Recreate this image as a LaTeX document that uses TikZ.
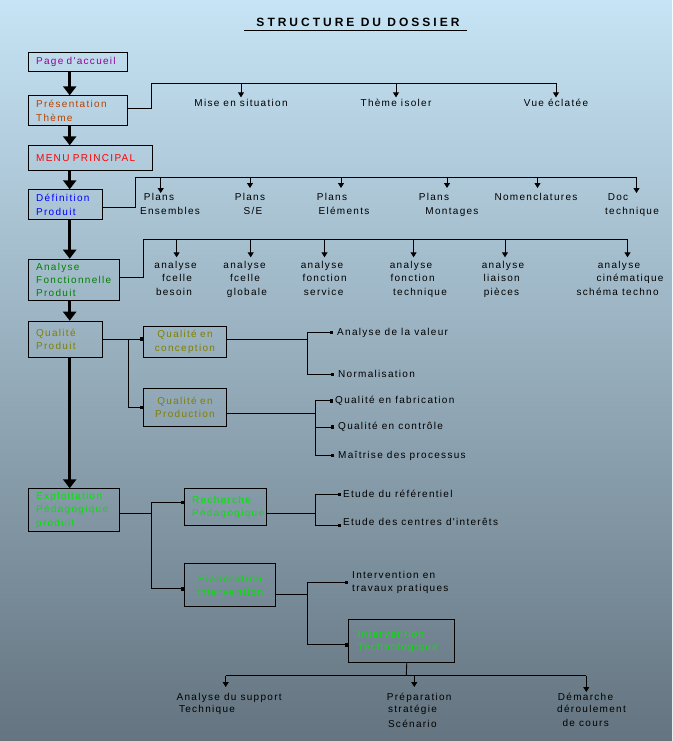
\documentclass[tikz,border=0pt]{standalone}
\usepackage{fontspec}
\setmainfont{Liberation Sans}
\newfontfamily\pixfont[LetterSpace=13]{Liberation Sans}
\newfontfamily\ttlfont[LetterSpace=25]{Liberation Sans}
\usetikzlibrary{arrows.meta}
\newcommand{\bxfont}{\pixfont\fontsize{10}{13.3}\selectfont}
\newcommand{\lbfont}{\pixfont\fontsize{10}{13.3}\selectfont}
\definecolor{cacc}{RGB}{150,0,150}
\definecolor{cpres}{RGB}{185,65,0}
\definecolor{cmenu}{RGB}{255,0,0}
\definecolor{cdef}{RGB}{0,0,255}
\definecolor{canal}{RGB}{0,128,0}
\definecolor{cqual}{RGB}{128,128,0}
\definecolor{cexpl}{RGB}{0,230,0}
\definecolor{bgtop}{RGB}{198,228,245}
\definecolor{bgbot}{RGB}{100,116,128}
\begin{document}
\begin{tikzpicture}[x=1pt,y=-1pt,
  box/.style={draw=black, line width=0.9pt, anchor=north west, inner ysep=0pt, font=\bxfont},
  lab/.style={font=\lbfont, inner sep=1pt, text height=7.5pt, text depth=2pt},
  conn/.style={line width=0.9pt, draw=black},
  big/.style={line width=3.5pt, -{Triangle[length=9pt,width=13pt]}},
  darr/.style={conn, -{Triangle[length=5pt,width=6pt]}},
  sarr/.style={conn, -{Square[length=3.5pt,width=3.5pt]}}]
\shade[top color=bgtop, bottom color=bgbot] (0,0) rectangle (672,741);
\useasboundingbox (0,0) rectangle (672,741);

% title
\node[font=\ttlfont\bfseries\fontsize{12}{14}\selectfont, inner sep=0pt] (title) at (358,22) {STRUCTURE DU DOSSIER};
\coordinate (ul1) at (244.3,30.5);
\coordinate (ul2) at (467.2,30.5);
\draw[line width=0.9pt] (ul1) -- (ul2);

% main boxes
\node[box, text=cacc, minimum width=98.4pt, minimum height=18.4pt, text width=83.6pt, inner xsep=7.4pt, align=left] (acc) at (28.3,52.3) {Page d'accueil};
\node[box, text=cpres, minimum width=98.4pt, minimum height=30pt, text width=83.6pt, inner xsep=7.4pt, align=left] (pres) at (28.3,95.3) {Présentation\\Thème};
\node[box, text=cmenu, minimum width=123.4pt, minimum height=25pt, text width=108.6pt, inner xsep=7.4pt, align=left] (menu) at (28.3,145.3) {MENU PRINCIPAL};
\node[box, text=cdef, minimum width=73.4pt, minimum height=30pt, text width=58.6pt, inner xsep=7.4pt, align=left] (def) at (28.3,189.3) {Définition\\Produit};
\node[box, text=canal, minimum width=90.4pt, minimum height=41.6pt, text width=75.6pt, inner xsep=7.4pt, align=left] (anal) at (28.3,258.7) {Analyse\\Fonctionnelle\\Produit};
\node[box, text=cqual, minimum width=73.4pt, minimum height=36pt, text width=58.6pt, inner xsep=7.4pt, align=left] (qual) at (28.3,320.7) {Qualité\\Produit};
\node[box, text=cqual, minimum width=82.4pt, minimum height=30.4pt, text width=74.4pt, inner xsep=4pt, align=center] (qconc) at (143.3,326.3) {Qualité en\\conception};
\node[box, text=cqual, minimum width=82.4pt, minimum height=37.4pt, text width=74.4pt, inner xsep=4pt, align=center] (qprod) at (143.3,388.3) {Qualité en\\Production};
\node[box, text=cexpl, minimum width=90.4pt, minimum height=43pt, text width=75.6pt, inner xsep=7.4pt, align=left] (expl) at (28.3,488.3) {Exploitation\\Pédagogique\\produit};
\node[box, text=cexpl, minimum width=81.4pt, minimum height=37pt, text width=66.6pt, inner xsep=7.4pt, align=left] (rech) at (184.3,488.3) {Recherche\\Pédagogique};
\node[box, text=cexpl, minimum width=90.4pt, minimum height=43pt, text width=82.4pt, inner xsep=4pt, align=center] (elab) at (184.3,563.3) {Elaboration\\Intervention};
\node[box, text=cexpl, minimum width=106pt, minimum height=43pt, text width=88pt, inner xsep=9pt, align=left] (itech) at (348.3,619.3) {Intervention\\Technologique};

% spine
\coordinate (spine) at (69.7,0);
\draw[big] (acc.south -| spine) -- (pres.north -| spine);
\draw[big] (pres.south -| spine) -- (menu.north -| spine);
\draw[big] (menu.south -| spine) -- (def.north -| spine);
\draw[big] (def.south -| spine) -- (anal.north -| spine);
\draw[big] (anal.south -| spine) -- (qual.north -| spine);
\draw[big] (qual.south -| spine) -- (expl.north -| spine);

% row 1
\node[lab] (m1) at (241,103.3) {Mise en situation};
\node[lab] (m2) at (396,103.3) {Thème isoler};
\node[lab] (m3) at (556,103.3) {Vue éclatée};
\coordinate (b1) at (151.7,83.3);
\draw[conn] ([yshift=2pt]pres.east) -| (b1) -- (b1 -| m3);
\draw[darr] (b1 -| m1) -- (m1.north);
\draw[darr] (b1 -| m2) -- (m2.north);
\draw[darr] (b1 -| m3) -- (m3.north);

% row 2
\node[lab] (p1a) at (159,197.3) {Plans};
\node[lab] (p1b) at (170,211.3) {Ensembles};
\node[lab] (p2a) at (250,197.3) {Plans};
\node[lab] (p2b) at (253,211.3) {S/E};
\node[lab] (p3a) at (332,197.3) {Plans};
\node[lab] (p3b) at (344,211.3) {Eléments};
\node[lab] (p4a) at (434,197.3) {Plans};
\node[lab] (p4b) at (452,211.3) {Montages};
\node[lab] (p5) at (536,197.3) {Nomenclatures};
\node[lab] (p6a) at (618,197.3) {Doc};
\node[lab] (p6b) at (632,211.3) {technique};
\coordinate (b2) at (135.3,177.3);
\coordinate (a21) at (160.7,193);
\coordinate (a22) at (250,188);
\coordinate (a23) at (341,188);
\coordinate (a24) at (447,188);
\coordinate (a25) at (537.5,188);
\coordinate (a26) at (636.5,193);
\draw[conn] ([yshift=-3pt]def.east) -| (b2) -- (b2 -| a26);
\foreach \t in {a21,a22,a23,a24,a25,a26} \draw[darr] (\t |- b2) -- (\t);

% row 3
\node[lab] (c1a) at (175.6,265.7) {analyse};
\node[lab] (c1b) at (177,278.5) {fcelle};
\node[lab] (c1c) at (174,292.7) {besoin};
\node[lab] (c2a) at (244.6,265.7) {analyse};
\node[lab] (c2b) at (245,278.5) {fcelle};
\node[lab] (c2c) at (247,292.7) {globale};
\node[lab] (c3a) at (322,265.7) {analyse};
\node[lab] (c3b) at (324.6,278.5) {fonction};
\node[lab] (c3c) at (323.6,292.7) {service};
\node[lab] (c4a) at (411,265.7) {analyse};
\node[lab] (c4b) at (412.6,278.5) {fonction};
\node[lab] (c4c) at (420,292.7) {technique};
\node[lab] (c5a) at (503,265.7) {analyse};
\node[lab] (c5b) at (501.7,278.5) {liaison};
\node[lab] (c5c) at (501.5,292.7) {pièces};
\node[lab] (c6a) at (619,265.7) {analyse};
\node[lab] (c6b) at (630,278.5) {cinématique};
\node[lab] (c6c) at (617.6,292.7) {schéma techno};
\coordinate (b3) at (143.3,239.3);
\coordinate (a31) at (176.6,257.3);
\coordinate (a32) at (250.7,257.3);
\coordinate (a33) at (324.5,257.3);
\coordinate (a34) at (413.6,257.3);
\coordinate (a35) at (505,257.3);
\coordinate (a36) at (627.5,257.3);
\draw[conn] ([yshift=3pt]anal.east) -| (b3) -- (b3 -| a36);
\foreach \t in {a31,a32,a33,a34,a35,a36} \draw[darr] (\t |- b3) -- (\t);

% qualite
\path (qual.east) ++(26,0) coordinate (j1);
\draw[sarr] (qual.east) -- (qual.east -| qconc.west);
\draw[sarr] (j1) |- (qprod.west);
\node[lab, anchor=west] (v1) at (336,332.3) {Analyse de la valeur};
\node[lab, anchor=west] (v2) at (337,374.5) {Normalisation};
\coordinate (j2) at (307.3,339.3);
\draw[conn] (qconc.east |- j2) -- (j2);
\draw[sarr, shorten >=3pt] (j2) |- (v1.west);
\draw[sarr, shorten >=3pt] (j2) |- (v2.west);
\node[lab, anchor=west] (f1) at (334,400.7) {Qualité en fabrication};
\node[lab, anchor=west] (f2) at (337,427) {Qualité en contrôle};
\node[lab, anchor=west] (f3) at (337,455.5) {Maîtrise des processus};
\coordinate (j3) at (315.3,413.3);
\draw[conn] (qprod.east |- j3) -- (j3);
\draw[sarr, shorten >=1pt] (j3) |- (f1.west);
\draw[sarr, shorten >=3pt] (j3) |- (f2.west);
\draw[sarr, shorten >=3pt] (j3) |- (f3.west);

% exploitation
\coordinate (j4) at (151.7,513.3);
\draw[conn] (expl.east |- j4) -- (j4);
\draw[sarr] (j4) |- ([yshift=5pt]rech.west);
\draw[sarr] (j4) |- ([yshift=-3.5pt]elab.west);
\node[lab, anchor=west] (e1) at (342,494.3) {Etude du référentiel};
\node[lab, anchor=west] (e2) at (342,523) {Etude des centres d'interêts};
\coordinate (j5) at (315.3,513.3);
\draw[conn] (rech.east |- j5) -- (j5);
\draw[sarr, shorten >=1pt] (j5) |- (e1.west);
\draw[sarr, shorten >=1pt] (j5) |- ([yshift=-2.5pt]e2.west);
\node[font=\lbfont, inner sep=1pt, anchor=west, align=left] (tp) at (351,582.3) {Intervention en\\travaux pratiques};
\coordinate (j6) at (307,594);
\draw[conn] (elab.east |- j6) -- (j6);
\draw[sarr, shorten >=3pt] (j6) |- (tp.west);
\draw[sarr] (j6) |- ([yshift=-3.5pt]itech.west);

% bottom
\node[lab] (d1a) at (229.2,697.3) {Analyse du support};
\node[lab] (d1b) at (207,710) {Technique};
\node[lab] (d2a) at (419.2,697.3) {Préparation};
\node[lab] (d2b) at (412.5,710) {stratégie};
\node[lab] (d2c) at (412.3,724.3) {Scénario};
\node[lab] (d3a) at (585.5,697.3) {Démarche};
\node[lab] (d3b) at (591.5,710) {déroulement};
\node[lab] (d3c) at (585.7,724) {de cours};
\coordinate (b4) at (406.3,675.7);
\coordinate (a41) at (225.7,687);
\coordinate (a42) at (414.3,687);
\coordinate (a43) at (586.3,692);
\draw[conn] ([xshift=5pt]itech.south) -- (b4);
\draw[conn] (a41 |- b4) -- (a43 |- b4);
\foreach \t in {a41,a42,a43} \draw[darr] (\t |- b4) -- (\t);
\end{tikzpicture}
\end{document}
